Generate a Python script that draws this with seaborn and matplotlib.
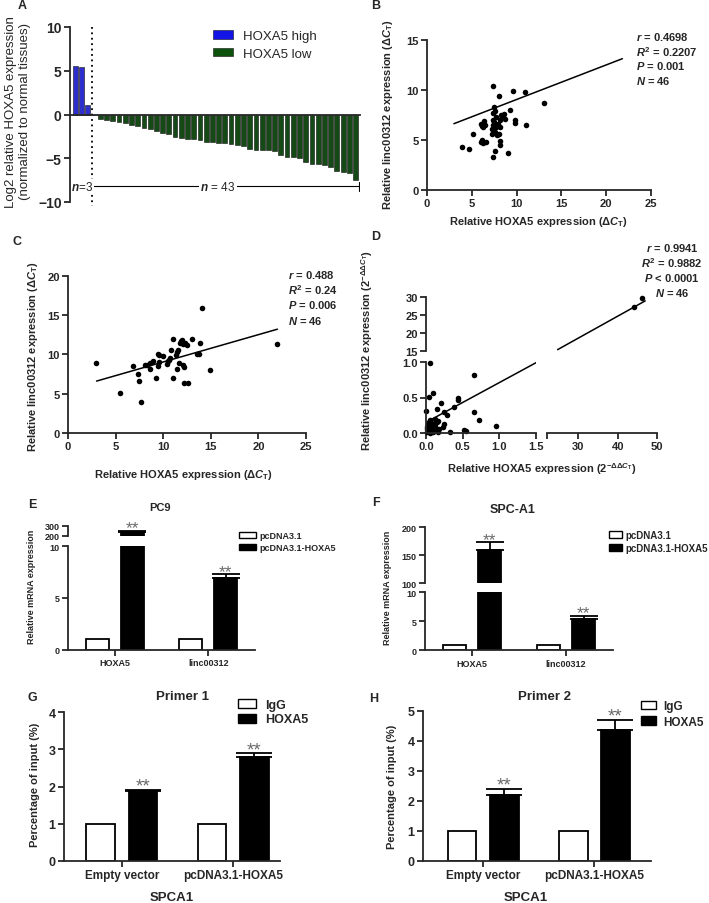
import matplotlib
matplotlib.use('Agg')
import matplotlib.pyplot as plt
from matplotlib.patches import Patch
import seaborn as sns
import numpy as np
import pandas as pd

# ---------------- data ----------------
# A: log2 relative HOXA5 expression per tumour
a_high = [5.5, 5.45, 1.1]
a_low = [-0.1, -0.5, -0.6, -0.7, -0.9, -1.0, -1.2, -1.3, -1.5, -1.7, -1.9, -2.1,
         -2.2, -2.6, -2.7, -2.75, -2.8, -2.9, -3.1, -3.15, -3.2, -3.3, -3.4, -3.5,
         -3.6, -3.9, -4.0, -4.0, -4.05, -4.2, -4.6, -4.8, -4.9, -5.0, -5.4, -5.6,
         -5.6, -5.8, -6.0, -6.4, -6.6, -6.7, -7.5]

# B: delta Ct scatter
b_x = [3.96, 4.67, 5.15, 6.04, 6.15, 6.25, 6.6, 6.04, 6.3, 6.37, 6.5, 7.33, 7.4, 7.6,
       7.5, 7.6, 7.4, 7.4, 7.3, 7.2, 7.6, 7.7, 7.8, 8.0, 8.0, 8.2, 8.2, 8.1, 8.2, 8.4,
       8.6, 8.7, 9.0, 9.26, 9.55, 9.8, 9.85, 10.9, 11.0, 13.1, 7.5, 7.9, 7.7, 8.3, 6.1, 7.35]
b_y = [4.27, 4.07, 5.56, 4.77, 5.0, 4.7, 4.75, 6.59, 6.3, 6.89, 6.5, 10.33, 3.3, 3.84,
       8.3, 7.9, 7.0, 6.5, 6.1, 5.6, 5.8, 6.3, 5.5, 5.6, 9.4, 4.87, 4.5, 6.3, 7.0, 7.3,
       7.6, 7.1, 3.7, 7.95, 9.83, 6.72, 7.0, 9.73, 6.46, 8.64, 6.8, 6.6, 7.3, 7.5, 6.4, 7.7]
b_fit_x = [3.0, 21.8]
b_fit_y = [6.6, 13.1]

# C: delta Ct scatter (second cohort)
c_x = [2.94, 5.49, 6.85, 7.31, 7.48, 7.69, 8.1, 8.25, 8.57, 8.64, 8.95, 9.2, 9.48, 9.5,
       9.55, 10.0, 10.4, 10.5, 10.7, 10.8, 11.0, 11.0, 11.3, 11.4, 11.5, 11.6, 11.7, 11.8,
       12.0, 12.06, 12.1, 12.2, 12.3, 12.5, 12.2, 12.6, 13.0, 13.5, 13.8, 13.9, 14.05,
       14.9, 21.96, 9.6, 10.6, 11.9]
c_y = [8.94, 5.08, 8.56, 7.54, 6.61, 3.94, 8.64, 8.7, 8.14, 8.86, 9.2, 7.03, 10.08, 8.47,
       9.02, 9.75, 8.8, 9.2, 9.5, 10.6, 11.95, 6.95, 9.96, 10.25, 8.18, 10.5, 8.86, 11.5,
       11.86, 11.3, 8.64, 8.4, 11.5, 11.2, 6.4, 6.4, 12.0, 10.0, 10.0, 11.4, 15.9,
       8.05, 11.27, 9.9, 9.3, 11.7]
c_fit_x = [3.0, 22.0]
c_fit_y = [6.6, 13.2]

# D: 2^-ddCt scatter (broken axes)
d_x = [0.06, 0.005, 0.04, 0.10, 0.15, 0.21, 0.24, 0.28, 0.23, 0.25, 0.33, 0.38, 0.43,
       0.44, 0.65, 0.66, 0.72, 0.52, 0.54, 0.95,
       0.01, 0.02, 0.03, 0.04, 0.05, 0.06, 0.07, 0.08, 0.09, 0.10, 0.11, 0.12, 0.13,
       0.14, 0.15, 0.16, 0.17, 0.12, 0.09, 0.18, 0.02, 0.07, 0.05, 0.11,
       44.1, 46.3]
d_y = [0.98, 0.31, 0.51, 0.57, 0.34, 0.42, 0.30, 0.25, 0.08, 0.13, 0.02, 0.36, 0.46,
       0.50, 0.81, 0.30, 0.19, 0.04, 0.03, 0.10,
       0.01, 0.05, 0.12, 0.03, 0.08, 0.18, 0.02, 0.10, 0.06, 0.01, 0.03, 0.10, 0.16,
       0.05, 0.15, 0.02, 0.17, 0.20, 0.12, 0.06, 0.08, 0.14, 0.00, 0.07,
       27.3, 29.7]
d_fit_low_x = [0.0, 1.5]
d_fit_low_y = [0.15, 0.99]
d_fit_up_x = [24.7, 47.0]
d_fit_up_y = [15.3, 29.0]

# E / F: overexpression qPCR
ef_genes = ['HOXA5', 'linc00312']
ef_groups = ['pcDNA3.1', 'pcDNA3.1-HOXA5']
e_ctrl = [1.0, 1.0]
e_oe = [240.0, 6.9]
e_oe_err = [10.0, 0.4]
f_ctrl = [1.0, 1.0]
f_oe = [160.0, 5.4]
f_oe_err = [13.0, 0.6]

# G / H: ChIP
gh_conds = ['Empty vector', 'pcDNA3.1-HOXA5']
gh_groups = ['IgG', 'HOXA5']
g_igg = [1.0, 1.0]
g_hoxa5 = [1.87, 2.8]
g_hoxa5_err = [0.05, 0.1]
h_igg = [1.0, 1.0]
h_hoxa5 = [2.2, 4.35]
h_hoxa5_err = [0.2, 0.35]

# ---------------- style ----------------
sns.set_style('ticks')
plt.rcParams['font.family'] = ['Liberation Sans', 'DejaVu Sans']
plt.rcParams['font.weight'] = 'bold'
plt.rcParams['mathtext.fontset'] = 'custom'
plt.rcParams['mathtext.rm'] = 'Liberation Sans:bold'
plt.rcParams['mathtext.it'] = 'Liberation Sans:italic:bold'
plt.rcParams['mathtext.bf'] = 'Liberation Sans:bold'
plt.rcParams['axes.linewidth'] = 1.3

W, H = 709, 904
fig = plt.figure(figsize=(W / 100, H / 100), dpi=100)


def add_ax(l, t, r, b):
    return fig.add_axes([l / W, 1 - b / H, (r - l) / W, (b - t) / H])


def ftext(x, y, s, **kw):
    kw.setdefault('ha', 'center')
    kw.setdefault('va', 'center')
    fig.text(x / W, 1 - y / H, s, **kw)


def style(ax, fs, left=True, bottom=True):
    sns.despine(ax=ax, left=not left, bottom=not bottom)
    ax.tick_params(direction='out', length=4, width=1.3, labelsize=fs, pad=2,
                   left=left, labelleft=left, bottom=bottom, labelbottom=bottom)
    ax.set_xlabel('')
    ax.set_ylabel('')
    ax.patch.set_alpha(0)


def fleg(ax, handles, labels, x, y, fs, weight='bold', **kw):
    ax.legend(handles, labels, loc='upper left', bbox_to_anchor=(x / W, 1 - y / H),
              bbox_transform=fig.transFigure, frameon=False,
              prop={'size': fs, 'weight': weight}, borderpad=0, borderaxespad=0, **kw)


# ---------------- A ----------------
ax = add_ax(70, 28, 360, 203)
df_a = pd.DataFrame({'sample': range(len(a_high) + len(a_low)),
                     'value': a_high + a_low,
                     'group': ['HOXA5 high'] * len(a_high) + ['HOXA5 low'] * len(a_low)})
pal_a = {'HOXA5 high': '#1414e6', 'HOXA5 low': '#0c520c'}
sns.barplot(data=df_a, x='sample', y='value', hue='group', palette=pal_a, dodge=False,
            width=0.78, edgecolor='#111111', linewidth=0.4, legend=False, ax=ax)
ax.set_xlim(-0.88, 45.72)
ax.set_ylim(-10, 10)
style(ax, 10)
ax.spines['bottom'].set_position(('data', 0))
ax.tick_params(axis='x', bottom=False, labelbottom=False)
ax.set_yticks([-10, -5, 0, 5, 10])
ax.plot([2.6, 2.6], [10, -10.4], ls=(0, (1, 2)), color='black', lw=1.3, clip_on=False)
ax.plot([2.6, 45.5], [-8.2, -8.2], color='black', lw=0.8)
ax.plot([45.5, 45.5], [-7.7, -8.7], color='black', lw=0.8)
ax.plot([2.6, 2.6], [-7.7, -8.7], color='black', lw=0.8)
ax.text(22.9, -8.2, '$n$ = 43', ha='center', va='center', fontsize=8.5, fontweight='normal',
        bbox=dict(facecolor='white', edgecolor='none', pad=1))
ax.text(1.1, -8.2, '$n$=3', ha='center', va='center', fontsize=8.5, fontweight='normal',
        bbox=dict(facecolor='white', edgecolor='none', pad=0.5))
fleg(ax, [Patch(facecolor=pal_a[k], edgecolor='#111111', linewidth=0.4) for k in pal_a],
     list(pal_a), 213, 31, 9.5, weight='normal', handlelength=1.5, handleheight=0.6,
     handletextpad=0.75, labelspacing=0.45)
ftext(18, 112, 'Log2 relative HOXA5 expression\n(normalized to normal tissues)',
      rotation=90, fontsize=9.5, fontweight='normal', linespacing=1.15)
ftext(22, 6, 'A', fontsize=9)

# ---------------- B ----------------
ax = add_ax(427, 40.7, 651, 190.7)
sns.scatterplot(x=b_x, y=b_y, color='black', s=16, linewidth=0, ax=ax)
ax.plot(b_fit_x, b_fit_y, color='black', lw=1.1)
ax.set_xlim(0, 25)
ax.set_ylim(0, 15)
ax.set_xticks([0, 5, 10, 15, 20, 25])
ax.set_yticks([0, 5, 10, 15])
style(ax, 8)
for i, s in enumerate(['$\\mathit{r}$ = 0.4698', '$\\mathit{R}^2$ = 0.2207',
                       '$\\mathit{P}$ = 0.001', '$\\mathit{N}$ = 46']):
    ftext(636, 37.3 + i * 14.6, s, ha='left', fontsize=8)
ftext(538, 222, 'Relative HOXA5 expression ($\\mathit{\\Delta C}_{\\mathrm{T}}$)', fontsize=8)
ftext(388, 115, 'Relative linc00312 expression ($\\mathit{\\Delta C}_{\\mathrm{T}}$)',
      rotation=90, fontsize=8)
ftext(376, 6, 'B', fontsize=9)

# ---------------- C ----------------
ax = add_ax(68, 276.7, 306, 434)
sns.scatterplot(x=c_x, y=c_y, color='black', s=16, linewidth=0, ax=ax)
ax.plot(c_fit_x, c_fit_y, color='black', lw=1.1)
ax.set_xlim(0, 25)
ax.set_ylim(0, 20)
ax.set_xticks([0, 5, 10, 15, 20, 25])
ax.set_yticks([0, 5, 10, 15, 20])
style(ax, 8)
for i, s in enumerate(['$\\mathit{r}$ = 0.488', '$\\mathit{R}^2$ = 0.24',
                       '$\\mathit{P}$ = 0.006', '$\\mathit{N}$ = 46']):
    ftext(288, 275 + i * 15.2, s, ha='left', fontsize=8)
ftext(183, 475, 'Relative HOXA5 expression ($\\mathit{\\Delta C}_{\\mathrm{T}}$)', fontsize=8)
ftext(33, 357, 'Relative linc00312 expression ($\\mathit{\\Delta C}_{\\mathrm{T}}$)',
      rotation=90, fontsize=8)
ftext(17, 242, 'C', fontsize=9)

# ---------------- D (broken axes) ----------------
d_low = [(x, y) for x, y in zip(d_x, d_y) if x <= 1.5]
d_up = [(x, y) for x, y in zip(d_x, d_y) if x > 1.5]

ax_ll = add_ax(426, 363, 536, 434)
sns.scatterplot(x=[p[0] for p in d_low], y=[p[1] for p in d_low], color='black', s=16,
                linewidth=0, clip_on=False, ax=ax_ll)
ax_ll.plot(d_fit_low_x, d_fit_low_y, color='black', lw=1.1)
ax_ll.set_xlim(0, 1.5)
ax_ll.set_ylim(0, 1.0)
ax_ll.set_xticks([0, 0.5, 1.0, 1.5], ['0.0', '0.5', '1.0', '1.5'])
ax_ll.set_yticks([0, 0.5, 1.0], ['0.0', '0.5', '1.0'])
style(ax_ll, 8)

ax_ul = add_ax(426, 298.3, 536, 351.7)
ax_ul.set_xlim(0, 1.5)
ax_ul.set_ylim(15, 30)
ax_ul.set_yticks([15, 20, 25, 30])
style(ax_ul, 8, bottom=False)

ax_lr = add_ax(547, 363, 657, 434)
ax_lr.set_xlim(22, 50)
ax_lr.set_ylim(0, 1)
ax_lr.set_xticks([22, 30, 40, 50], ['', '30', '40', '50'])
style(ax_lr, 8, left=False)

ax_ur = add_ax(547, 298.3, 657, 351.7)
sns.scatterplot(x=[p[0] for p in d_up], y=[p[1] for p in d_up], color='black', s=16,
                linewidth=0, clip_on=False, ax=ax_ur)
ax_ur.plot(d_fit_up_x, d_fit_up_y, color='black', lw=1.1)
ax_ur.set_xlim(22, 50)
ax_ur.set_ylim(15, 30)
style(ax_ur, 8, left=False, bottom=False)

for i, s in enumerate(['$\\mathit{r}$ = 0.9941', '$\\mathit{R}^2$ = 0.9882',
                       '$\\mathit{P}$ < 0.0001', '$\\mathit{N}$ = 46']):
    ftext(672, 248 + i * 15, s, fontsize=8)
ftext(542, 469, 'Relative HOXA5 expression (2$^{-\\mathit{\\Delta\\Delta C}_{\\mathrm{T}}}$)',
      fontsize=8)
ftext(367, 350, 'Relative linc00312 expression (2$^{-\\mathit{\\Delta\\Delta C}_{\\mathrm{T}}}$)',
      rotation=90, fontsize=8)
ftext(376, 237, 'D', fontsize=9)


# ---------------- bar helpers ----------------
def bar_panel(axes, cats, groups, ctrl, trt, err, width, gap, star_fs, capsize):
    df = pd.DataFrame({'cat': cats * 2, 'group': [groups[0]] * 2 + [groups[1]] * 2,
                       'value': ctrl + trt})
    pal = {groups[0]: 'white', groups[1]: 'black'}
    for ax in axes:
        sns.barplot(data=df, x='cat', y='value', hue='group', palette=pal, width=width,
                    gap=gap, edgecolor='black', linewidth=1.3, legend=False, ax=ax)
        blacks = sorted([p for p in ax.patches if p.get_facecolor()[0] < 0.5],
                        key=lambda p: p.get_x())
        xs = [p.get_x() + p.get_width() / 2 for p in blacks]
        ax.errorbar(xs, trt, yerr=[np.zeros(len(trt)), err], fmt='none', ecolor='black',
                    elinewidth=1.3, capsize=capsize, capthick=1.3)
        lo, hi = ax.get_ylim()
        for x, v, e in zip(xs, trt, err):
            if lo <= v + e <= hi:
                ax.annotate('**', (x, v + e), xytext=(0, -3.5), textcoords='offset points',
                            ha='center', va='bottom', fontsize=star_fs, color='#6a6a6a',
                            fontweight='normal', annotation_clip=False)
    return pal


# ---------------- E ----------------
ax_el = add_ax(68, 547.3, 255, 650.7)
ax_eu = add_ax(68, 526.7, 255, 536.7)
ax_el.set_ylim(0, 10)
ax_eu.set_ylim(200, 300)
pal = bar_panel([ax_el, ax_eu], ef_genes, ef_groups, e_ctrl, e_oe, e_oe_err,
                0.75, 0.34, 12.5, 10)
for ax in (ax_el, ax_eu):
    ax.set_xlim(-0.5, 1.5)
ax_el.set_ylim(0, 10)
ax_eu.set_ylim(200, 300)
ax_el.set_yticks([0, 5, 10])
ax_eu.set_yticks([200, 300])
style(ax_el, 6.5)
style(ax_eu, 6.5, bottom=False)
fleg(ax_el, [Patch(facecolor=pal[g], edgecolor='black', linewidth=1.0) for g in ef_groups],
     ef_groups, 239, 532, 6.5, handlelength=1.9, handleheight=0.7, handletextpad=0.4,
     labelspacing=0.35)
ftext(160, 508, 'PC9', fontsize=8)
ftext(32, 587, 'Relative mRNA expression', rotation=90, fontsize=6.5)
ftext(32, 505, 'E', fontsize=9)

# ---------------- F ----------------
ax_fl = add_ax(425, 593.3, 613, 651.3)
ax_fu = add_ax(425, 528, 613, 584.3)
ax_fl.set_ylim(0, 10)
ax_fu.set_ylim(100, 200)
pal = bar_panel([ax_fl, ax_fu], ef_genes, ef_groups, f_ctrl, f_oe, f_oe_err,
                0.75, 0.34, 12.5, 10)
for ax in (ax_fl, ax_fu):
    ax.set_xlim(-0.5, 1.5)
ax_fl.set_ylim(0, 10)
ax_fu.set_ylim(100, 200)
ax_fl.set_yticks([0, 5, 10])
ax_fu.set_yticks([100, 150, 200])
style(ax_fl, 6.5)
style(ax_fu, 6.5, bottom=False)
fleg(ax_fl, [Patch(facecolor=pal[g], edgecolor='black', linewidth=1.0) for g in ef_groups],
     ef_groups, 609, 531, 7, handlelength=1.3, handleheight=0.7, handletextpad=0.35,
     labelspacing=0.3)
ftext(513, 510, 'SPC-A1', fontsize=9)
ftext(388, 588, 'Relative mRNA expression', rotation=90, fontsize=6.5)
ftext(376, 503, 'F', fontsize=9)

# ---------------- G ----------------
ax = add_ax(64, 713.3, 280, 862)
ax.set_ylim(0, 4)
pal = bar_panel([ax], gh_conds, gh_groups, g_igg, g_hoxa5, g_hoxa5_err,
                0.76, 0.32, 13.5, 13)
ax.set_xlim(-0.52, 1.42)
ax.set_ylim(0, 4)
ax.set_yticks([0, 1, 2, 3, 4])
style(ax, 8.5)
ax.tick_params(axis='y', labelsize=9)
fleg(ax, [Patch(facecolor=pal[g], edgecolor='black', linewidth=1.0) for g in gh_groups],
     gh_groups, 238, 700, 9, handlelength=1.45, handleheight=0.7, handletextpad=0.7,
     labelspacing=0.2)
ftext(183, 697, 'Primer 1', fontsize=9.5)
ftext(35, 785, 'Percentage of input (%)', rotation=90, fontsize=8)
ftext(172, 898, 'SPCA1', fontsize=9.5)
ftext(32, 698, 'G', fontsize=9)

# ---------------- H ----------------
ax = add_ax(423, 711.7, 651, 862)
ax.set_ylim(0, 5)
pal = bar_panel([ax], gh_conds, gh_groups, h_igg, h_hoxa5, h_hoxa5_err,
                0.76, 0.32, 13.5, 13)
ax.set_xlim(-0.54, 1.51)
ax.set_ylim(0, 5)
ax.set_yticks([0, 1, 2, 3, 4, 5])
style(ax, 8.5)
ax.tick_params(axis='y', labelsize=9)
fleg(ax, [Patch(facecolor=pal[g], edgecolor='black', linewidth=1.0) for g in gh_groups],
     gh_groups, 641, 701, 8.5, handlelength=1.3, handleheight=0.7, handletextpad=0.6,
     labelspacing=0.3)
ftext(544, 697, 'Primer 2', fontsize=9.5)
ftext(392, 787, 'Percentage of input (%)', rotation=90, fontsize=8)
ftext(526, 898, 'SPCA1', fontsize=9.5)
ftext(374, 699, 'H', fontsize=9)

fig.savefig('out.png', dpi=100)
